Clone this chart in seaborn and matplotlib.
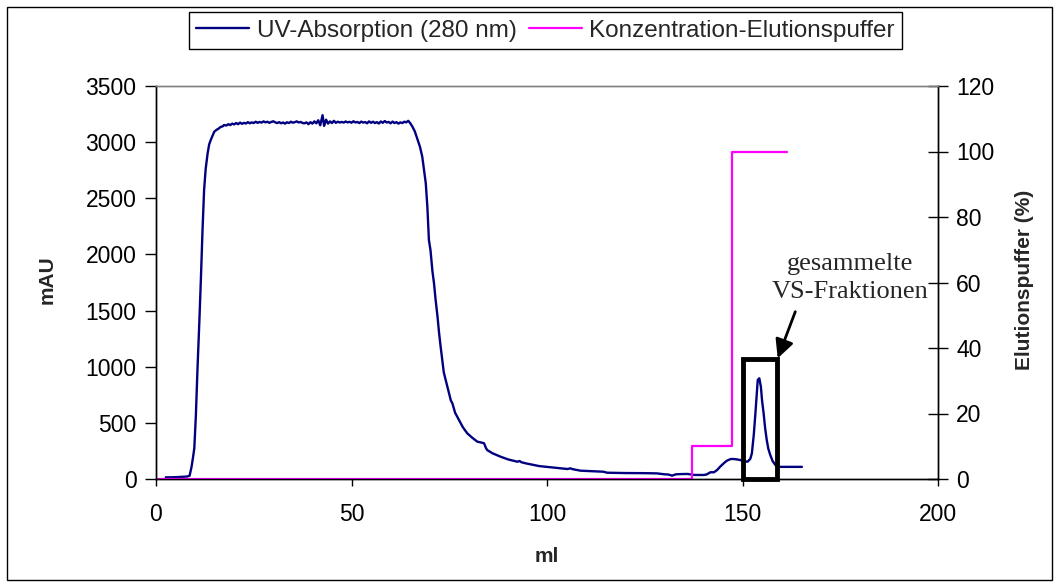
import numpy as np
import pandas as pd
import matplotlib
matplotlib.use("Agg")
import matplotlib.pyplot as plt
import matplotlib.patches as patches
import seaborn as sns

# UV absorption trace
uv_ml = [2.5, 4, 6, 8, 8.6, 9.1, 9.5, 9.8, 10.2, 10.6, 11.1, 11.5, 11.9, 12.3, 12.7, 13.2, 13.6,
         14.0, 14.5, 14.9, 15.5, 16, 16.5, 17, 17.4,
         18, 18.5, 19, 19.5, 20, 20.5, 21, 21.5, 22, 22.5, 23, 23.5, 24, 24.5, 25, 25.5, 26, 26.5,
         27, 27.5, 28, 28.5, 29, 29.5, 30, 30.5, 31, 31.5, 32, 32.5, 33, 33.5, 34, 34.5, 35, 35.5,
         36, 36.5, 37, 37.5, 38, 38.5, 39, 39.5, 40, 40.5, 41, 41.5, 42, 42.6, 43, 43.5, 44, 44.5,
         45, 45.5, 46, 46.5, 47, 47.5, 48, 48.5, 49, 49.5, 50, 50.5, 51, 51.5, 52, 52.5, 53, 53.5,
         54, 54.5, 55, 55.5, 56, 56.5, 57, 57.5, 58, 58.5, 59, 59.5, 60, 60.5, 61, 61.5, 62, 62.5,
         63, 63.5, 64, 64.5,
         65.0, 65.6, 66.2, 66.8, 67.5, 68.1, 69.0, 69.4, 69.8, 70.2, 70.7, 71.1, 71.5, 72.0, 72.4,
         72.8, 73.6, 74.1, 74.8, 75.4, 75.8, 76.5, 77.5, 78.5, 79.6, 80.8, 82.2, 83.2, 83.9, 84.4,
         84.7, 86, 88.1, 90, 92.4, 93, 93.4, 94.5, 96.6, 98, 100.9, 103, 105.2, 106, 106.5, 108.6,
         111, 114.4, 115.4, 120, 125, 128.1, 130, 131, 132, 133, 134.5, 136, 137.1, 138, 140.1,
         140.8, 141.8, 142.7, 143.5, 144.3, 145.2, 146, 147, 147.7, 148.5, 149.4, 150.3, 151.3,
         152, 152.4, 152.9, 153.3, 153.9, 154.3, 154.7, 155.0, 155.4, 155.8, 156.2, 156.6, 157.1,
         157.7, 158.4, 159, 160, 162, 165.2]
uv_mau = [15, 15, 18, 22, 30, 110, 200, 275, 570, 970, 1415, 1800, 2218, 2574, 2760, 2900, 2980,
          3019, 3060, 3093, 3110, 3120, 3135, 3140, 3152,
          3148, 3160, 3152, 3165, 3158, 3170, 3160, 3174, 3163, 3172, 3166, 3178, 3168, 3176, 3170,
          3182, 3172, 3180, 3174, 3185, 3176, 3182, 3172, 3180, 3186, 3176, 3170, 3178, 3168, 3175,
          3165, 3177, 3170, 3182, 3173, 3178, 3185, 3175, 3180, 3170, 3168, 3176, 3160, 3178, 3165,
          3185, 3168, 3195, 3150, 3240, 3145, 3200, 3165, 3185, 3170, 3190, 3172, 3182, 3175, 3180,
          3174, 3184, 3176, 3181, 3173, 3186, 3175, 3180, 3170, 3183, 3174, 3179, 3168, 3185, 3172,
          3182, 3170, 3178, 3166, 3184, 3172, 3188, 3175, 3180, 3168, 3183, 3170, 3178, 3165, 3176,
          3170, 3182, 3176, 3190,
          3170, 3137, 3095, 3034, 2960, 2870, 2633, 2425, 2128, 2039, 1850, 1743, 1600, 1445, 1300,
          1178, 950, 880, 780, 700, 674, 590, 525, 460, 407, 370, 332, 325, 318, 275,
          258, 230, 199, 175, 154, 160, 150, 140, 125, 115, 104, 97, 89, 95, 88, 74,
          70, 65, 56, 53, 52, 50, 42, 40, 30, 42, 44, 45, 38, 36, 36,
          40, 60, 60, 80, 110, 140, 163, 178, 178, 175, 169, 160, 154,
          180, 229, 400, 585, 882, 897, 822, 700, 585, 450, 347, 270, 214,
          160, 125, 110, 108, 108, 108]

# elution buffer concentration (step gradient)
buffer_ml = [0, 137.1, 137.1, 147.3, 147.3, 161.4]
buffer_pct = [0, 0, 10, 10, 100, 100]

uv = pd.DataFrame({"ml": uv_ml, "mAU": uv_mau})
buf = pd.DataFrame({"ml": buffer_ml, "pct": buffer_pct})

sns.set_style("ticks")
plt.rcParams["font.family"] = ["Liberation Sans", "DejaVu Sans"]

fig = plt.figure(figsize=(10.6, 5.84), dpi=100)
ax1 = fig.add_axes([156 / 1060, 1 - 479 / 584, 782 / 1060, 393 / 584])
ax2 = ax1.twinx()

sns.lineplot(data=uv, x="ml", y="mAU", ax=ax1, color="#000080", lw=1.7,
             estimator=None, sort=False, label="UV-Absorption (280 nm)")
sns.lineplot(data=buf, x="ml", y="pct", ax=ax2, color="#FF00FF", lw=1.6,
             estimator=None, sort=False, label="Konzentration-Elutionspuffer")

ax1.set_xlim(0, 200)
ax1.set_ylim(0, 3500)
ax2.set_ylim(0, 120)
ax1.set_xticks(range(0, 201, 50))
ax1.set_yticks(range(0, 3501, 500))
ax2.set_yticks(range(0, 121, 20))

for ax in (ax1, ax2):
    ax.tick_params(labelsize=16.5, colors="black", width=1)
    for s in ax.spines.values():
        s.set_color("black")
        s.set_linewidth(1)
    ax.spines["top"].set_color("#808080")
    ax.spines["top"].set_visible(True)
    ax.spines["right"].set_visible(True)
ax1.tick_params(axis="y", direction="out", length=8, pad=6)
ax1.tick_params(axis="x", direction="out", length=5, pad=12)
ax2.tick_params(axis="y", direction="inout", length=14, pad=6)

ax1.set_xlabel("ml", fontsize=15, fontweight="bold")
ax1.set_ylabel("mAU", fontsize=15, fontweight="bold")
ax2.set_ylabel("Elutionspuffer (%)", fontsize=15, fontweight="bold")
ax1.xaxis.set_label_coords(0.5, -0.172)
ax1.yaxis.set_label_coords(-0.127, 0.506)
ax2.yaxis.set_label_coords(1.099, 0.506)

# collected fractions box and arrow
ax1.add_patch(patches.Rectangle((150.1, 0), 8.7, 1066, fill=False, ec="black", lw=3.5,
                                zorder=5, clip_on=False))
ax1.annotate("", xy=(159.0, 1075), xytext=(163.5, 1490),
             arrowprops=dict(arrowstyle="-|>", color="black", lw=2, mutation_scale=28,
                             shrinkA=0, shrinkB=0))
ax1.text(177.5, 1790, "gesammelte\nVS-Fraktionen", ha="center", va="center",
         fontsize=19, family=["Liberation Serif", "DejaVu Serif"], linespacing=1.3)

# combined legend at the top
h1, l1 = ax1.get_legend_handles_labels()
h2, l2 = ax2.get_legend_handles_labels()
ax1.get_legend().remove()
ax2.get_legend().remove()
leg = fig.legend(h1 + h2, l1 + l2, ncol=2, loc="upper center",
                 bbox_to_anchor=(545.4 / 1060, 1 - 12.3 / 584), fontsize=17.5,
                 frameon=True, fancybox=False, edgecolor="black", framealpha=1,
                 handlelength=2.2, handletextpad=0.3, columnspacing=0.5,
                 borderpad=0.3, borderaxespad=0)
leg.get_frame().set_linewidth(1)

# outer frame around the chart
fig.patches.append(patches.Rectangle((7 / 1060, 4 / 584), 1045 / 1060, 573 / 584,
                                     transform=fig.transFigure, fill=False,
                                     ec="black", lw=1))

fig.savefig("out.png", dpi=100)
